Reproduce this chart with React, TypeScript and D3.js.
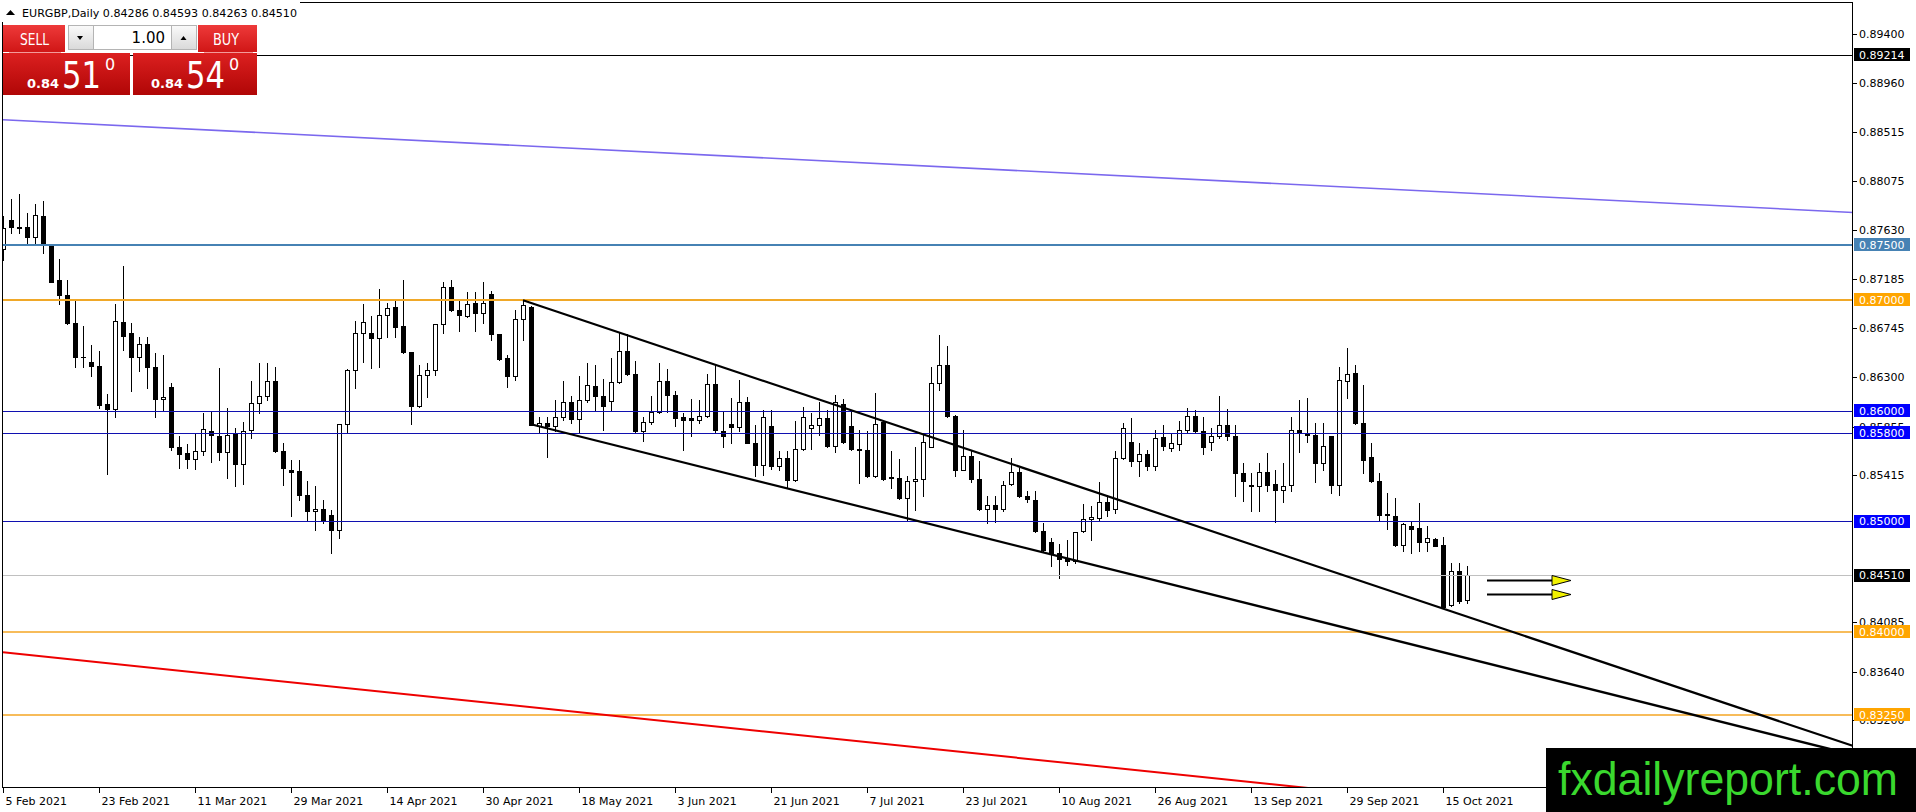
import React, { useEffect, useRef } from 'react';
import * as d3 from 'd3';

const WIDTH = 1916;
const HEIGHT = 812;
const FONT = '"DejaVu Sans", Tahoma, sans-serif';

// MT4 chart window frame
const FRAME = { left: 3, top: 3, right: 1853, bottom: 788 };

// EURGBP daily, bar 0 = 5 Feb 2021
const opens = [
  0.87459, 0.87724, 0.87663, 0.87658, 0.87568, 0.8776, 0.87492, 0.87182, 0.8704, 0.8679,
  0.86484, 0.86443, 0.86404, 0.86061, 0.86013, 0.86799, 0.867, 0.86483, 0.86601, 0.86398,
  0.86104, 0.86217, 0.85675, 0.85615, 0.85561, 0.8563, 0.85811, 0.85772, 0.85621, 0.85796,
  0.85516, 0.85826, 0.86067, 0.86133, 0.86269, 0.8563, 0.85465, 0.85456, 0.85239, 0.85088,
  0.8511, 0.85052, 0.84922, 0.85878, 0.86368, 0.86705, 0.86705, 0.86655, 0.86863, 0.8694,
  0.86766, 0.86525, 0.86037, 0.86323, 0.86368, 0.86781, 0.87116, 0.86911, 0.8685, 0.86971,
  0.86881, 0.87052, 0.86691, 0.86474, 0.86308, 0.86827, 0.8694, 0.85862, 0.85887, 0.85862,
  0.85941, 0.86076, 0.85923, 0.86097, 0.86224, 0.86133, 0.86085, 0.8626, 0.86534, 0.8633,
  0.85811, 0.85892, 0.85986, 0.86269, 0.86136, 0.85946, 0.85937, 0.85916, 0.85953, 0.86239,
  0.85817, 0.85878, 0.85847, 0.86073, 0.85711, 0.85504, 0.85862, 0.85495, 0.8557, 0.85374,
  0.85652, 0.85841, 0.85865, 0.85932, 0.85684, 0.86061, 0.85856, 0.85652, 0.85645, 0.85404,
  0.85892, 0.85399, 0.8539, 0.85214, 0.85359, 0.85381, 0.85675, 0.86248, 0.86411, 0.85955,
  0.85465, 0.85585, 0.85381, 0.8511, 0.85142, 0.8511, 0.85334, 0.85449, 0.85232, 0.85194,
  0.84907, 0.84808, 0.84712, 0.84667, 0.84636, 0.84907, 0.85022, 0.85028, 0.85173, 0.85109,
  0.8557, 0.8572, 0.8554, 0.85607, 0.85495, 0.8576, 0.85666, 0.857, 0.8582, 0.85953,
  0.85811, 0.85715, 0.85766, 0.85865, 0.85766, 0.85435, 0.85329, 0.8532, 0.85449, 0.85335,
  0.85278, 0.85329, 0.85826, 0.85796, 0.85775, 0.85525, 0.85772, 0.85329, 0.86269, 0.86338,
  0.85887, 0.8558, 0.85359, 0.85067, 0.85049, 0.84787, 0.84961, 0.84938, 0.84808, 0.84838,
  0.84784, 0.84245, 0.84546, 0.84286,
];
const highs = [
  0.87754, 0.87911, 0.87959, 0.87784, 0.87866, 0.87896, 0.87504, 0.87371, 0.87182, 0.86986,
  0.86766, 0.86594, 0.86534, 0.86151, 0.86965, 0.87302, 0.86793, 0.86669, 0.86664, 0.86519,
  0.86504, 0.86248, 0.85766, 0.85697, 0.85796, 0.85977, 0.85986, 0.86384, 0.86022, 0.85841,
  0.85896, 0.86269, 0.86434, 0.86434, 0.86398, 0.85706, 0.85555, 0.85555, 0.85359, 0.8532,
  0.85194, 0.85103, 0.85882, 0.86372, 0.86805, 0.86965, 0.8685, 0.871, 0.86971, 0.86992,
  0.87182, 0.8653, 0.86413, 0.86434, 0.86785, 0.87166, 0.87182, 0.86992, 0.87067, 0.87067,
  0.87161, 0.87082, 0.86695, 0.86504, 0.86911, 0.86995, 0.86945, 0.85946, 0.85946, 0.86097,
  0.86263, 0.86127, 0.86308, 0.86429, 0.86413, 0.86284, 0.86474, 0.867, 0.86694, 0.8645,
  0.85946, 0.86127, 0.86429, 0.86375, 0.86179, 0.85982, 0.86104, 0.86097, 0.86329, 0.86413,
  0.85992, 0.86113, 0.86278, 0.86118, 0.85871, 0.86007, 0.86001, 0.8563, 0.8563, 0.85901,
  0.86031, 0.85982, 0.86073, 0.86007, 0.86142, 0.86104, 0.86007, 0.85826, 0.85811, 0.86163,
  0.85901, 0.8563, 0.85561, 0.85404, 0.8567, 0.85781, 0.86398, 0.86685, 0.86579, 0.8596,
  0.85826, 0.85645, 0.8554, 0.85224, 0.85224, 0.85359, 0.8557, 0.8548, 0.85269, 0.85269,
  0.84988, 0.84847, 0.84796, 0.84832, 0.84902, 0.85157, 0.85133, 0.8535, 0.85239, 0.8563,
  0.85887, 0.85932, 0.85711, 0.85645, 0.85826, 0.85871, 0.85796, 0.8591, 0.86022, 0.86007,
  0.85946, 0.85841, 0.86127, 0.86016, 0.85871, 0.85525, 0.85435, 0.85525, 0.85615, 0.85465,
  0.85525, 0.85941, 0.86097, 0.86113, 0.85887, 0.85887, 0.85772, 0.86398, 0.86564, 0.86413,
  0.86233, 0.85711, 0.85435, 0.85254, 0.85209, 0.84983, 0.85004, 0.85169, 0.84959, 0.8485,
  0.84856, 0.84622, 0.84622, 0.84593,
];
const lows = [
  0.87362, 0.87604, 0.87606, 0.87513, 0.87513, 0.87423, 0.87161, 0.86965, 0.86785, 0.86398,
  0.86389, 0.86314, 0.86022, 0.85429, 0.85946, 0.86549, 0.86181, 0.86353, 0.86208, 0.85946,
  0.86007, 0.85645, 0.85485, 0.8548, 0.85471, 0.856, 0.85531, 0.85555, 0.85386, 0.8532,
  0.85338, 0.85751, 0.85982, 0.86097, 0.85621, 0.85329, 0.85043, 0.85194, 0.85013, 0.84922,
  0.84983, 0.84712, 0.84847, 0.85796, 0.86203, 0.86443, 0.86384, 0.86398, 0.86669, 0.86669,
  0.86519, 0.85878, 0.86031, 0.86118, 0.86323, 0.86705, 0.86901, 0.86723, 0.86845, 0.86723,
  0.8679, 0.86633, 0.86459, 0.86217, 0.86278, 0.86633, 0.85866, 0.85802, 0.85584, 0.85811,
  0.85917, 0.85887, 0.85796, 0.86073, 0.86007, 0.8582, 0.85998, 0.86248, 0.86317, 0.85796,
  0.85729, 0.85878, 0.85977, 0.85986, 0.85856, 0.85645, 0.85766, 0.85887, 0.85946, 0.85796,
  0.85675, 0.85706, 0.85811, 0.85706, 0.85404, 0.85419, 0.85471, 0.85465, 0.85299, 0.85359,
  0.85647, 0.85652, 0.85781, 0.85675, 0.85621, 0.85706, 0.85645, 0.85344, 0.85399, 0.85399,
  0.85374, 0.85299, 0.852, 0.85013, 0.85103, 0.85224, 0.85675, 0.86188, 0.85946, 0.85404,
  0.85459, 0.8535, 0.85097, 0.84988, 0.84997, 0.85088, 0.85329, 0.85218, 0.85178, 0.84898,
  0.84727, 0.84591, 0.84486, 0.84606, 0.84622, 0.84898, 0.84826, 0.85013, 0.85043, 0.85073,
  0.85565, 0.85495, 0.8541, 0.85465, 0.85465, 0.85645, 0.8563, 0.85645, 0.85802, 0.85796,
  0.85609, 0.85645, 0.85751, 0.85736, 0.85224, 0.85185, 0.85088, 0.85088, 0.85269, 0.84997,
  0.85178, 0.85269, 0.85621, 0.8572, 0.8535, 0.85465, 0.85259, 0.85239, 0.86113, 0.8588,
  0.85435, 0.8535, 0.85013, 0.84929, 0.84772, 0.84735, 0.84712, 0.84727, 0.84727, 0.84772,
  0.84215, 0.84236, 0.8426, 0.84263,
];
const closes = [
  0.87649, 0.87658, 0.87652, 0.87568, 0.87766, 0.87507, 0.87166, 0.8704, 0.8679, 0.8648,
  0.8648, 0.86407, 0.86052, 0.86013, 0.86805, 0.86678, 0.8648, 0.86601, 0.86398, 0.86104,
  0.86122, 0.85675, 0.85609, 0.85561, 0.8563, 0.85832, 0.85775, 0.85621, 0.85778, 0.85516,
  0.85811, 0.86067, 0.86133, 0.86269, 0.8563, 0.8548, 0.85449, 0.85239, 0.85088, 0.8511,
  0.85013, 0.84922, 0.85878, 0.86368, 0.86705, 0.86796, 0.86655, 0.86863, 0.86931, 0.86751,
  0.86525, 0.86037, 0.86323, 0.86368, 0.86781, 0.87116, 0.86911, 0.86859, 0.86962, 0.86881,
  0.86971, 0.86691, 0.86468, 0.86308, 0.86827, 0.86956, 0.85871, 0.85887, 0.85862, 0.85941,
  0.86076, 0.85923, 0.86097, 0.86233, 0.86133, 0.86037, 0.8626, 0.86534, 0.8633, 0.85811,
  0.85896, 0.85986, 0.86269, 0.86136, 0.85932, 0.85916, 0.85916, 0.85953, 0.86239, 0.85826,
  0.85766, 0.85847, 0.86073, 0.85711, 0.85504, 0.85941, 0.85495, 0.8557, 0.85374, 0.85652,
  0.85941, 0.85871, 0.85932, 0.85684, 0.86073, 0.8572, 0.85652, 0.85639, 0.85404, 0.85878,
  0.8538, 0.85386, 0.85214, 0.85359, 0.85381, 0.8572, 0.86248, 0.86411, 0.85955, 0.85465,
  0.85591, 0.85381, 0.8511, 0.85142, 0.8511, 0.85323, 0.85449, 0.85232, 0.852, 0.84907,
  0.84736, 0.84712, 0.84658, 0.84636, 0.84898, 0.85019, 0.85037, 0.85173, 0.85103, 0.8557,
  0.85841, 0.8554, 0.85607, 0.85495, 0.85751, 0.85684, 0.85706, 0.8582, 0.85953, 0.85811,
  0.8567, 0.85772, 0.85865, 0.85766, 0.85435, 0.85359, 0.85314, 0.85449, 0.85329, 0.85278,
  0.85314, 0.85826, 0.85796, 0.85775, 0.85525, 0.85681, 0.85329, 0.86278, 0.86332, 0.85887,
  0.85549, 0.85359, 0.85058, 0.85055, 0.84787, 0.84974, 0.84931, 0.84808, 0.84847, 0.84778,
  0.84229, 0.84546, 0.84275, 0.8451,
];

// bottom axis: one label every 12 bars
const dateLabels = [
  '5 Feb 2021', '23 Feb 2021', '11 Mar 2021', '29 Mar 2021', '14 Apr 2021', '30 Apr 2021',
  '18 May 2021', '3 Jun 2021', '21 Jun 2021', '7 Jul 2021', '23 Jul 2021', '10 Aug 2021',
  '26 Aug 2021', '13 Sep 2021', '29 Sep 2021', '15 Oct 2021',
];
const DATE_LABEL_STEP = 12;

// scale labels (0.84970 and 0.84525 sit fully under level tags, so they are left out)
const priceTicks = [
  0.894, 0.8896, 0.88515, 0.88075, 0.8763, 0.87185, 0.86745, 0.863, 0.85855, 0.85415,
  0.84085, 0.8364, 0.832,
];

// horizontal levels drawn on the chart
const levelPrices = [0.89214, 0.875, 0.87, 0.86, 0.858, 0.85, 0.8451, 0.84, 0.8325];
const levelKinds = ['black', 'steel', 'orange', 'blue', 'blue', 'blue', 'bid', 'orangeThin', 'orangeThin'];

// trend lines (bar index / price anchors)
const trendStartBars = [0, 0, 65, 66];
const trendStartPrices = [0.88628, 0.83815, 0.86996, 0.85876];
const trendEndBars = [231, 163, 231, 231];
const trendEndPrices = [0.87791, 0.8259, 0.82975, 0.82894];
const trendKinds = ['purple', 'red', 'channel', 'channel'];

// forecast arrows
const arrowStartBars = [185.5, 185.5];
const arrowEndBars = [196, 196];
const arrowPrices = [0.84471, 0.84338];

const KIND_STYLE: Record<string, { color: string; width: number; labelBg?: string }> = {
  black: { color: '#000000', width: 1, labelBg: '#000000' },
  steel: { color: '#4682b4', width: 2, labelBg: '#4682b4' },
  orange: { color: '#f0a828', width: 2, labelBg: '#ffa500' },
  orangeThin: { color: '#f5a623', width: 1.6, labelBg: '#ffa500' },
  blue: { color: '#1010b0', width: 1, labelBg: '#0000ff' },
  bid: { color: '#c0c0c0', width: 1, labelBg: '#000000' },
  purple: { color: '#7b68ee', width: 1.6 },
  red: { color: '#ee0000', width: 2 },
  channel: { color: '#000000', width: 2.2 },
};

const fmt = (p: number) => p.toFixed(5);

export default function App() {
  const svgRef = useRef<SVGSVGElement | null>(null);

  useEffect(() => {
    if (!svgRef.current) return;
    const svg = d3.select(svgRef.current);
    svg.selectAll('*').remove();

    const lastBar = (FRAME.right - FRAME.left) / 8;
    const x = d3.scaleLinear().domain([0, lastBar]).range([FRAME.left, FRAME.right]);
    const y = d3.scaleLinear().domain([0.894, 0.8364]).range([34.3, 671.7]);

    const defs = svg.append('defs');
    defs.append('clipPath').attr('id', 'plot-clip')
      .append('rect')
      .attr('x', FRAME.left).attr('y', FRAME.top)
      .attr('width', FRAME.right - FRAME.left).attr('height', FRAME.bottom - FRAME.top);

    const grad = (id: string, top: string, bottom: string) => {
      const g = defs.append('linearGradient').attr('id', id)
        .attr('x1', 0).attr('y1', 0).attr('x2', 0).attr('y2', 1);
      g.append('stop').attr('offset', '0%').attr('stop-color', top);
      g.append('stop').attr('offset', '100%').attr('stop-color', bottom);
    };
    grad('btn-red', '#ee3a3a', '#d01616');
    grad('box-red', '#dc2020', '#b00606');
    grad('btn-gray', '#fafafa', '#d9d9d9');

    svg.append('rect').attr('width', WIDTH).attr('height', HEIGHT).attr('fill', '#ffffff');

    const plot = svg.append('g').attr('clip-path', 'url(#plot-clip)');

    // candles
    const bars = d3.range(opens.length);
    const candle = plot.append('g').attr('shape-rendering', 'crispEdges');
    bars.forEach((i) => {
      const cx = Math.round(x(i));
      const o = opens[i];
      const c = closes[i];
      const yh = Math.round(y(highs[i]));
      const yl = Math.round(y(lows[i]));
      const yTop = Math.round(y(Math.max(o, c)));
      const yBot = Math.round(y(Math.min(o, c)));
      candle.append('line')
        .attr('x1', cx + 0.5).attr('x2', cx + 0.5)
        .attr('y1', yh).attr('y2', yl + 1)
        .attr('stroke', '#000').attr('stroke-width', 1);
      if (c > o) {
        candle.append('rect')
          .attr('x', cx - 1.5).attr('y', yTop + 0.5)
          .attr('width', 4).attr('height', Math.max(1, yBot - yTop))
          .attr('fill', '#fff').attr('stroke', '#000').attr('stroke-width', 1);
      } else {
        candle.append('rect')
          .attr('x', cx - 2).attr('y', yTop)
          .attr('width', 5).attr('height', Math.max(1, yBot - yTop + 1))
          .attr('fill', '#000');
      }
    });

    // horizontal levels
    levelPrices.forEach((p, k) => {
      const st = KIND_STYLE[levelKinds[k]];
      const yy = Math.round(y(p)) + (st.width % 2 === 1 ? 0.5 : 0);
      plot.append('line')
        .attr('x1', FRAME.left).attr('x2', FRAME.right)
        .attr('y1', yy).attr('y2', yy)
        .attr('stroke', st.color).attr('stroke-width', st.width);
    });

    // trend lines, extended to the right edge
    trendKinds.forEach((kind, k) => {
      const st = KIND_STYLE[kind];
      const b0 = trendStartBars[k];
      const b1 = trendEndBars[k];
      const p0 = trendStartPrices[k];
      const p1 = trendEndPrices[k];
      const bEnd = lastBar + 2;
      const pEnd = p0 + ((p1 - p0) * (bEnd - b0)) / (b1 - b0);
      plot.append('line')
        .attr('x1', x(b0)).attr('y1', y(p0))
        .attr('x2', x(bEnd)).attr('y2', y(pEnd))
        .attr('stroke', st.color).attr('stroke-width', st.width);
    });

    // arrows with yellow heads
    arrowPrices.forEach((p, k) => {
      const yy = Math.round(y(p)) + 0.5;
      const xs = x(arrowStartBars[k]);
      const xe = x(arrowEndBars[k]);
      const headLen = 19;
      plot.append('line')
        .attr('x1', xs).attr('x2', xe - headLen)
        .attr('y1', yy).attr('y2', yy)
        .attr('stroke', '#000').attr('stroke-width', 2);
      plot.append('path')
        .attr('d', `M${xe - headLen},${yy - 5}L${xe},${yy}L${xe - headLen},${yy + 5}Z`)
        .attr('fill', '#f2f200').attr('stroke', '#000').attr('stroke-width', 1);
    });

    // frame
    const frame = svg.append('g').attr('shape-rendering', 'crispEdges');
    frame.append('rect')
      .attr('x', FRAME.left - 0.5).attr('y', FRAME.top - 0.5)
      .attr('width', FRAME.right - FRAME.left).attr('height', FRAME.bottom - FRAME.top)
      .attr('fill', 'none').attr('stroke', '#000').attr('stroke-width', 1);

    // price axis
    const axisG = svg.append('g').attr('font-family', FONT).attr('font-size', 11);
    priceTicks.forEach((p) => {
      const yy = Math.round(y(p)) + 0.5;
      axisG.append('line')
        .attr('x1', FRAME.right).attr('x2', FRAME.right + 4)
        .attr('y1', yy).attr('y2', yy)
        .attr('stroke', '#000').attr('shape-rendering', 'crispEdges');
      axisG.append('text')
        .attr('x', FRAME.right + 6).attr('y', yy).attr('dy', '0.36em')
        .attr('fill', '#000').text(fmt(p));
    });
    levelPrices.forEach((p, k) => {
      const st = KIND_STYLE[levelKinds[k]];
      const yy = y(p);
      axisG.append('rect')
        .attr('x', FRAME.right + 1).attr('y', Math.round(yy - 6.5))
        .attr('width', 56).attr('height', 13)
        .attr('fill', st.labelBg || '#000');
      axisG.append('text')
        .attr('x', FRAME.right + 6).attr('y', yy).attr('dy', '0.36em')
        .attr('fill', '#fff').text(fmt(p));
    });

    // date axis
    dateLabels.forEach((lab, k) => {
      const xx = Math.round(x(k * DATE_LABEL_STEP)) + 0.5;
      axisG.append('line')
        .attr('x1', xx).attr('x2', xx)
        .attr('y1', FRAME.bottom).attr('y2', FRAME.bottom + 5)
        .attr('stroke', '#000').attr('shape-rendering', 'crispEdges');
      axisG.append('text')
        .attr('x', xx + 2).attr('y', 805)
        .attr('fill', '#000').text(lab);
    });

    // header line
    const head = svg.append('g').attr('font-family', FONT);
    head.append('rect').attr('x', 0).attr('y', 0).attr('width', 300).attr('height', 22).attr('fill', '#fff');
    head.append('path').attr('d', 'M6,15L10.5,10L15,15Z').attr('fill', '#000');
    head.append('text')
      .attr('x', 22).attr('y', 17).attr('font-size', 11)
      .attr('textLength', 275).attr('lengthAdjust', 'spacingAndGlyphs')
      .attr('fill', '#000')
      .text(`EURGBP,Daily  ${fmt(opens[opens.length - 1])} ${fmt(highs[highs.length - 1])} ${fmt(lows[lows.length - 1])} ${fmt(closes[closes.length - 1])}`);

    // one-click trading panel
    const panel = svg.append('g').attr('font-family', FONT);
    const button = (x0: number, w: number, label: string, tx: number, tw: number) => {
      panel.append('rect').attr('x', x0).attr('y', 25).attr('width', w).attr('height', 27).attr('fill', 'url(#btn-red)');
      panel.append('line').attr('x1', x0 + 6).attr('x2', x0 + w - 4).attr('y1', 52.5).attr('y2', 52.5)
        .attr('stroke', '#f39a9a').attr('stroke-width', 1);
      panel.append('text').attr('x', tx).attr('y', 45).attr('font-size', 15)
        .attr('textLength', tw).attr('lengthAdjust', 'spacingAndGlyphs')
        .attr('fill', '#fff').text(label);
    };
    button(3, 62, 'SELL', 20, 29);
    button(198, 59, 'BUY', 213, 26);

    // lot size control
    panel.append('rect').attr('x', 68.5).attr('y', 25.5).attr('width', 25).attr('height', 24)
      .attr('fill', 'url(#btn-gray)').attr('stroke', '#b4b4b4');
    panel.append('rect').attr('x', 93.5).attr('y', 25.5).attr('width', 78).attr('height', 24)
      .attr('fill', '#fff').attr('stroke', '#b4b4b4');
    panel.append('rect').attr('x', 171.5).attr('y', 25.5).attr('width', 25).attr('height', 24)
      .attr('fill', 'url(#btn-gray)').attr('stroke', '#b4b4b4');
    panel.append('path').attr('d', 'M77,36L83,36L80,40Z').attr('fill', '#000');
    panel.append('path').attr('d', 'M180.5,40L186.5,40L183.5,36Z').attr('fill', '#000');
    panel.append('text').attr('x', 165).attr('y', 43).attr('font-size', 15)
      .attr('text-anchor', 'end').attr('fill', '#000').text('1.00');

    const priceBox = (x0: number, w: number, big: string, sx: number) => {
      panel.append('rect').attr('x', x0).attr('y', 53).attr('width', w).attr('height', 42).attr('fill', 'url(#box-red)');
      panel.append('text').attr('x', sx).attr('y', 88).attr('font-size', 13).attr('font-weight', 'bold')
        .attr('fill', '#fff').text('0.84');
      panel.append('text').attr('x', sx + 35).attr('y', 88).attr('font-size', 37)
        .attr('textLength', 39).attr('lengthAdjust', 'spacingAndGlyphs')
        .attr('fill', '#fff').text(big);
      panel.append('text').attr('x', sx + 78).attr('y', 70).attr('font-size', 16)
        .attr('fill', '#fff').text('0');
    };
    priceBox(3, 127, '51', 27);
    priceBox(133, 124, '54', 151);

    // watermark
    const wm = svg.append('g');
    wm.append('rect').attr('x', 1546).attr('y', 748).attr('width', 370).attr('height', 64).attr('fill', '#000');
    wm.append('text')
      .attr('x', 1558).attr('y', 795)
      .attr('font-family', '"Liberation Sans", Arial, sans-serif').attr('font-size', 46)
      .attr('textLength', 340).attr('lengthAdjust', 'spacingAndGlyphs')
      .attr('fill', '#3ad82e').text('fxdailyreport.com');
  }, []);

  return (
    <svg
      ref={svgRef}
      width={WIDTH}
      height={HEIGHT}
      style={{ position: 'absolute', left: 0, top: 0, display: 'block' }}
    />
  );
}
